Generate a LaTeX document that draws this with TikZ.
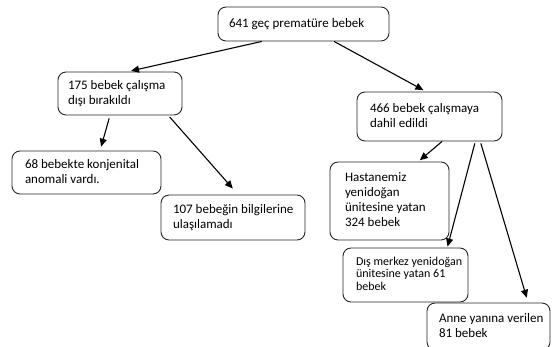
\documentclass[tikz,border=0pt]{standalone}
\usepackage{fontspec}
\setmainfont{Carlito}
\usetikzlibrary{calc,arrows.meta}
\tikzset{
  box/.style={draw=black!85, line width=0.9pt, rounded corners=8pt,
    inner ysep=0pt, font=\fontsize{13}{15}\selectfont},
  arr/.style={line width=1.1pt, -{Triangle[length=8pt,width=7pt]}}
}
\newcommand{\bx}[8]{% name, cx, cy, w, h, xsep, text, extra
  \node[box, #8, inner xsep=#6pt, minimum width=#4pt, minimum height=#5pt] (#1) at (#2,#3)
   {\makebox[\dimexpr#4pt-2\dimexpr#6pt\relax\relax][l]{\begin{tabular}{@{}l@{}}#7\end{tabular}}};}
\begin{document}
\begin{tikzpicture}[x=1pt,y=-1pt]
\useasboundingbox (0,0) rectangle (553,346);
\clip (0,0) rectangle (553,346);
\bx{top}{303.5}{24}{171}{34}{11}{641 geç prematüre bebek}{}
\bx{b175}{120}{93.5}{124}{43}{10}{175 bebek çalışma\\dışı bırakıldı}{}
\bx{b68}{86.5}{172.5}{149}{43}{13}{68 bebekte konjenital\\anomali vardı.}{}
\bx{b107}{233}{217.5}{144}{45}{12}{107 bebeğin bilgilerine\\ulaşılamadı}{}
\bx{b466}{429.5}{116.5}{145}{49}{13}{466 bebek çalışmaya\\dahil edildi}{}
\bx{bH}{389.5}{201}{119}{78}{15}{Hastanemiz\\yenidoğan\\ünitesine yatan\\324 bebek}{}
\bx{bD}{405.5}{275}{125}{54}{13}{Dış merkez yenidoğan\\ünitesine yatan 61\\bebek}{font=\fontsize{12}{12.5}\selectfont}
\bx{bA}{488.5}{326.5}{123}{47}{12}{Anne yanına verilen\\81 bebek}{}
\draw[arr, shorten >=3pt] ($(top.south west)!0.257!(top.south east)$) -- ($(b175.north west)!0.565!(b175.north east)$);
\draw[arr, shorten >=3pt] ($(top.south west)!0.678!(top.south east)$) -- ($(b466.north west)!0.476!(b466.north east)$);
\draw[arr, shorten <=3pt, shorten >=4pt] ($(b175.south west)!0.42!(b175.south east)$) -- ($(b68.north west)!0.59!(b68.north east)$);
\draw[arr, shorten <=2pt, shorten >=8pt] ($(b175.south west)!0.887!(b175.south east)$) -- ($(b107.north west)!0.535!(b107.north east)$);
\draw[arr, shorten >=2pt] ($(b466.south west)!0.586!(b466.south east)$) -- ($(bH.north west)!0.74!(bH.north east)$);
\draw[arr, shorten <=2pt, shorten >=1pt] ($(b466.south west)!0.814!(b466.south east)$) -- ($(bD.north west)!0.832!(bD.north east)$);
\draw[arr, shorten <=2pt, shorten >=5pt] ($(b466.south west)!0.848!(b466.south east)$) -- ($(bA.north west)!0.82!(bA.north east)$);
\end{tikzpicture}
\end{document}
